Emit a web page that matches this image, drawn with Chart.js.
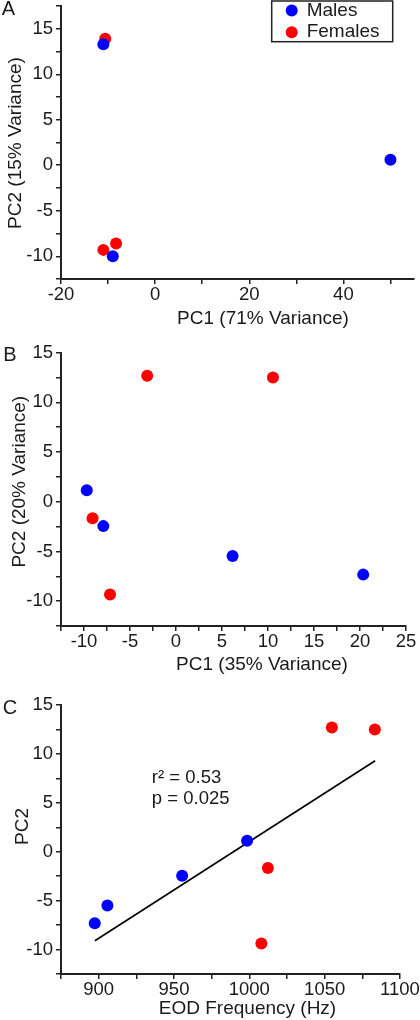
<!DOCTYPE html>
<html><head><meta charset="utf-8">
<script src="https://cdn.jsdelivr.net/npm/chart.js@4.4.1/dist/chart.umd.min.js"></script>
<style>
html,body{margin:0;padding:0;background:#fff;}
body{width:420px;height:1020px;position:relative;overflow:hidden;}
canvas{position:absolute;left:0;}
</style></head><body>
<canvas id="a" width="420" height="340" style="top:0px"></canvas>
<canvas id="b" width="420" height="340" style="top:340px"></canvas>
<canvas id="c" width="420" height="340" style="top:680px"></canvas>
<script>
// ---------- Data ----------
const seriesNames = ['Males', 'Females'];

// Panel A
const aMalesX = [-11.0, -9.0, 50.0];
const aMalesY = [13.3, -10.0, 0.6];
const aFemalesX = [-10.6, -11.0, -8.3];
const aFemalesY = [13.9, -9.3, -8.6];
const aXTicks = [-20, -10, 0, 10, 20, 30, 40, 50];
const aXLabels = [-20, 0, 20, 40];
const aYTicks = [-12.5, -10, -7.5, -5, -2.5, 0, 2.5, 5, 7.5, 10, 12.5, 15, 17.5];
const aYLabels = [-10, -5, 0, 5, 10, 15];

// Panel B
const bMalesX = [-9.7, -7.9, 6.15, 20.35];
const bMalesY = [1.17, -2.45, -5.46, -7.33];
const bFemalesX = [-9.07, -7.17, -3.13, 10.54];
const bFemalesY = [-1.65, -9.34, 12.68, 12.51];
const bXTicks = [-12.5, -10, -7.5, -5, -2.5, 0, 2.5, 5, 7.5, 10, 12.5, 15, 17.5, 20, 22.5, 25];
const bXLabels = [-10, -5, 0, 5, 10, 15, 20, 25];
const bYTicks = [-12.5, -10, -7.5, -5, -2.5, 0, 2.5, 5, 7.5, 10, 12.5, 15];
const bYLabels = [-10, -5, 0, 5, 10, 15];

// Panel C
const cMalesX = [897.4, 905.8, 955.4, 998.5];
const cMalesY = [-7.3, -5.5, -2.45, 1.12];
const cFemalesX = [1008.0, 1012.3, 1054.8, 1083.3];
const cFemalesY = [-9.37, -1.67, 12.7, 12.5];
const cFitX = [897.5, 1083.5];
const cFitY = [-9.1, 9.3];
const cXTicks = [875, 900, 925, 950, 975, 1000, 1025, 1050, 1075, 1100];
const cXLabels = [900, 950, 1000, 1050, 1100];
const cYTicks = [-12.5, -10, -7.5, -5, -2.5, 0, 2.5, 5, 7.5, 10, 12.5, 15];
const cYLabels = [-10, -5, 0, 5, 10, 15];
const cStats = ['r\u00B2 = 0.53', 'p = 0.025'];

// ---------- Styling / helpers ----------
const FONT = "'Liberation Sans', Arial, Helvetica, sans-serif";
const INK = '#1a1a1a';
const BLUE = '#0000ff';
const RED = '#ff0000';
Chart.defaults.font.family = FONT;
Chart.defaults.color = INK;

const pts = (xs, ys) => xs.map((x, i) => ({x: x, y: ys[i]}));

function pointSet(label, xs, ys, color) {
  return {label: label, data: pts(xs, ys), backgroundColor: color, borderColor: color,
          borderWidth: 0, pointRadius: 6, pointHoverRadius: 6};
}

function axis(pos, min, max, ticks, labels, size) {
  const horiz = pos === 'bottom';
  return {
    type: 'linear', position: pos, min: min, max: max,
    border: {display: true, color: '#222', width: 2},
    grid: {display: true, drawOnChartArea: false, drawTicks: true, tickLength: 5, color: '#222', lineWidth: 1.5},
    ticks: {autoSkip: false, maxRotation: 0, minRotation: 0, padding: horiz ? 0 : 3, color: INK,
            font: {size: 18.5, family: FONT},
            callback: (v) => labels.includes(v) ? String(v) : ''},
    afterBuildTicks: (s) => { s.ticks = ticks.map(v => ({value: v})); },
    afterFit: (s) => {
      if (horiz) s.height = size; else s.width = size;
      s.paddingLeft = 0; s.paddingRight = 0; s.paddingTop = 0; s.paddingBottom = 0;
    }
  };
}

const panelText = {
  id: 'panelText',
  afterDraw(chart, args, o) {
    const ctx = chart.ctx;
    ctx.save();
    ctx.fillStyle = INK;
    ctx.textBaseline = 'middle';
    ctx.textAlign = 'center';
    ctx.font = '20px ' + FONT;
    ctx.fillText(o.letter, o.letterAt[0], o.letterAt[1]);
    ctx.font = '19px ' + FONT;
    ctx.fillText(o.xTitle, o.xTitleAt[0], o.xTitleAt[1]);
    ctx.save();
    ctx.translate(o.yTitleAt[0], o.yTitleAt[1]);
    ctx.rotate(-Math.PI / 2);
    ctx.fillText(o.yTitle, 0, 0);
    ctx.restore();
    if (o.notes) {
      ctx.textAlign = 'left';
      ctx.font = '18.5px ' + FONT;
      const xs = chart.scales.x, ys = chart.scales.y;
      o.notes.forEach(n => ctx.fillText(n.text, xs.getPixelForValue(n.x), ys.getPixelForValue(n.y)));
    }
    ctx.restore();
  }
};

const boxLegend = {
  id: 'boxLegend',
  afterDraw(chart, args, o) {
    if (!o || !o.box) return;
    const ctx = chart.ctx;
    const [x0, y0, x1, y1] = o.box;
    ctx.save();
    ctx.fillStyle = '#fff';
    ctx.fillRect(x0, y0, x1 - x0, y1 - y0);
    ctx.lineWidth = 1.5;
    ctx.strokeStyle = '#222';
    ctx.strokeRect(x0, y0, x1 - x0, y1 - y0);
    ctx.font = '19px ' + FONT;
    ctx.textBaseline = 'middle';
    ctx.textAlign = 'left';
    chart.data.datasets.slice(0, 2).forEach((ds, i) => {
      ctx.fillStyle = ds.backgroundColor;
      ctx.beginPath();
      ctx.arc(o.markerX, o.rows[i], 6, 0, Math.PI * 2);
      ctx.fill();
      ctx.fillStyle = INK;
      ctx.fillText(ds.label, o.textX, o.rows[i]);
    });
    ctx.restore();
  }
};

function makeChart(id, c) {
  return new Chart(document.getElementById(id), {
    type: 'scatter',
    data: {datasets: c.datasets},
    options: {
      responsive: false, animation: false, devicePixelRatio: 1,
      layout: {padding: {top: c.padTop, right: c.padRight, left: 0, bottom: 0}},
      plugins: {legend: {display: false}, tooltip: {enabled: false},
                panelText: c.text, boxLegend: c.legend || false},
      scales: {
        x: axis('bottom', c.xMin, c.xMax, c.xTicks, c.xLabels, c.xSize),
        y: axis('left', c.yMin, c.yMax, c.yTicks, c.yLabels, 61)
      }
    },
    plugins: [panelText, boxLegend]
  });
}

// Panel A
makeChart('a', {
  datasets: [pointSet(seriesNames[0], aMalesX, aMalesY, BLUE), pointSet(seriesNames[1], aFemalesX, aFemalesY, RED)],
  padTop: 1, padRight: 6, xSize: 61,
  xMin: -20, xMax: 55, xTicks: aXTicks, xLabels: aXLabels,
  yMin: -12.5, yMax: 17.5, yTicks: aYTicks, yLabels: aYLabels,
  text: {letter: 'A', letterAt: [8.5, 9.5], xTitle: 'PC1 (71% Variance)', xTitleAt: [263, 318.5],
         yTitle: 'PC2 (15% Variance)', yTitleAt: [15.5, 143]},
  legend: {box: [271.7, 1, 392.7, 41.7], markerX: 291.7, textX: 306.7, rows: [10.5, 32.2]}
});

// Panel B
makeChart('b', {
  datasets: [pointSet(seriesNames[0], bMalesX, bMalesY, BLUE), pointSet(seriesNames[1], bFemalesX, bFemalesY, RED)],
  padTop: 12.7, padRight: 14, xSize: 54,
  xMin: -12.5, xMax: 25, xTicks: bXTicks, xLabels: bXLabels,
  yMin: -12.5, yMax: 15, yTicks: bYTicks, yLabels: bYLabels,
  text: {letter: 'B', letterAt: [10, 15.5], xTitle: 'PC1 (35% Variance)', xTitleAt: [262, 325],
         yTitle: 'PC2 (20% Variance)', yTitleAt: [20, 141.7]}
});

// Panel C
makeChart('c', {
  datasets: [pointSet(seriesNames[0], cMalesX, cMalesY, BLUE), pointSet(seriesNames[1], cFemalesX, cFemalesY, RED),
    {label: 'Fit', type: 'line', data: pts(cFitX, cFitY), showLine: true, borderColor: '#000', borderWidth: 1.6,
     pointRadius: 0, fill: false, tension: 0}],
  padTop: 25, padRight: 20, xSize: 46,
  xMin: 875, xMax: 1100, xTicks: cXTicks, xLabels: cXLabels,
  yMin: -12.5, yMax: 15, yTicks: cYTicks, yLabels: cYLabels,
  text: {letter: 'C', letterAt: [10, 28], xTitle: 'EOD Frequency (Hz)', xTitleAt: [247.5, 329],
         yTitle: 'PC2', yTitleAt: [22.5, 146.5],
         notes: [{text: cStats[0], x: 935.3, y: 7.56}, {text: cStats[1], x: 935.3, y: 5.41}]}
});
</script>
</body></html>
